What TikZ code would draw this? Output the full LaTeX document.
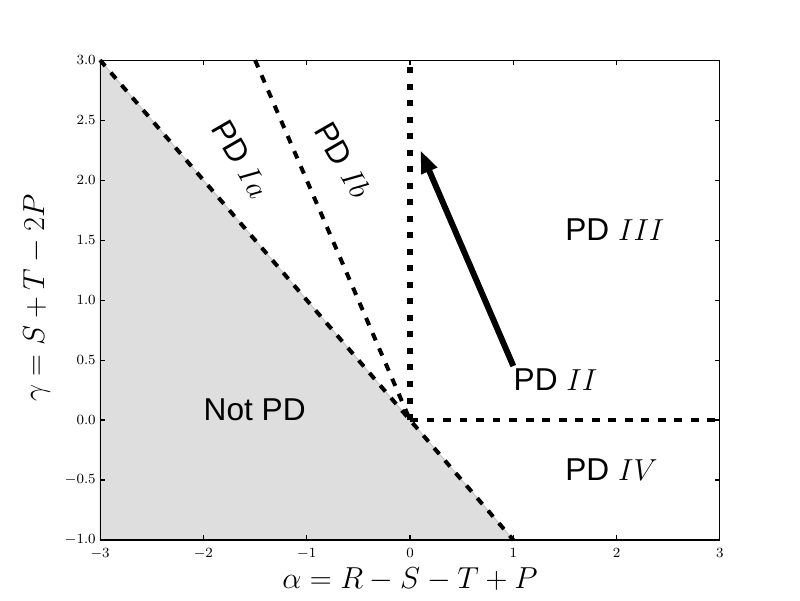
\documentclass[tikz,border=0pt]{standalone}
\usepackage{fontspec}
\newfontfamily\pdfont{Liberation Sans}
\usetikzlibrary{arrows.meta}
\definecolor{notpd}{RGB}{222,222,222}
\definecolor{notpdedge}{RGB}{200,200,200}
\begin{document}
\begin{tikzpicture}[x=0.02cm,y=-0.02cm,
  bnd/.style={line width=2.27pt, dash pattern=on 4.5pt off 4.9pt},
  vbnd/.style={line width=2.9pt, dash pattern=on 3.4pt off 6pt},
  ticklab/.style={font=\fontsize{8}{9}\selectfont, inner sep=0pt},
  region/.style={font=\pdfont\fontsize{18}{20}\selectfont, inner sep=0pt, anchor=base west},
  rotregion/.style={font=\pdfont\fontsize{18}{20}\selectfont, inner sep=0pt, anchor=center, rotate=-60},
  axlab/.style={font=\fontsize{17.5}{20}\selectfont, inner sep=0pt, anchor=base},
  frame/.style={line width=0.6pt},
  tickmark/.style={line width=0.6pt},
  flow/.style={line width=3.4pt, -{Triangle[width=9pt,length=13pt]}}]
\useasboundingbox (0,0) rectangle (800,600);
\fill[white] (0,0) rectangle (800,600);
\begin{scope}[shift={(410,420)}, x=2.066667cm, y=2.4cm]
  \coordinate (tl) at (-3,3);
  \coordinate (br) at (1,-1);
  \coordinate (bl) at (-3,-1);
  \coordinate (o) at (0,0);
  \coordinate (ib) at (-1.5,3);
  \coordinate (vt) at (0,3);
  \coordinate (hr) at (3,0);
  \coordinate (aT) at (1,0.45);
  \coordinate (aH) at (0.1,2.25);
  % not PD region
  \fill[notpd, draw=notpdedge, line width=0.6pt] (tl) -- (br) -- (bl) -- cycle;
  % boundaries
  \draw[bnd] (tl) -- (br);
  \draw[bnd] (ib) -- (o);
  \draw[bnd] (o) -- (hr);
  \draw[vbnd] (o) -- (vt);
  % arrow
  \draw[flow] (aT) -- (aH);
  % frame
  \draw[frame] (-3,-1) rectangle (3,3);
  \foreach \x in {-2,-1,0,1,2} {
    \draw[tickmark] (\x,-1) -- ++(0,2.8pt);
    \draw[tickmark] (\x,3) -- ++(0,-2.8pt);
  }
  \foreach \y in {-0.5,0,0.5,1,1.5,2,2.5} {
    \draw[tickmark] (-3,\y) -- ++(2.8pt,0);
    \draw[tickmark] (3,\y) -- ++(-2.8pt,0);
  }
  \foreach \x/\l in {-3/-3,-2/-2,-1/-1,0/0,1/1,2/2,3/3} {
    \path (\x,-1) ++(0,-4.5pt) node[ticklab, anchor=north] (xl\x) {$\l$};
  }
  \foreach \y/\l [count=\i] in {-1/-1.0,-0.5/-0.5,0/0.0,0.5/0.5,1/1.0,1.5/1.5,2/2.0,2.5/2.5,3/3.0} {
    \path (-3,\y) ++(-2.3pt,0) node[ticklab, anchor=east] (yl\i) {$\l$};
  }
  % region labels
  \node[region] (notpd) at (-2,0) {Not PD};
  \node[region] (pd2) at (1,0.25) {PD $II$};
  \node[region] (pd3) at (1.5,1.5) {PD $III$};
  \node[region] (pd4) at (1.5,-0.5) {PD $IV$};
  \node[rotregion] (pd1a) at (-1.636,2.175) {PD $Ia$};
  \node[rotregion] (pd1b) at (-0.648,2.167) {PD $Ib$};
\end{scope}
\node[axlab] (xlab) at (410,588) {$\alpha = R - S - T + P$};
\node[axlab, rotate=90] (ylab) at (44,298) {$\gamma = S + T - 2P$};
\end{tikzpicture}
\end{document}
